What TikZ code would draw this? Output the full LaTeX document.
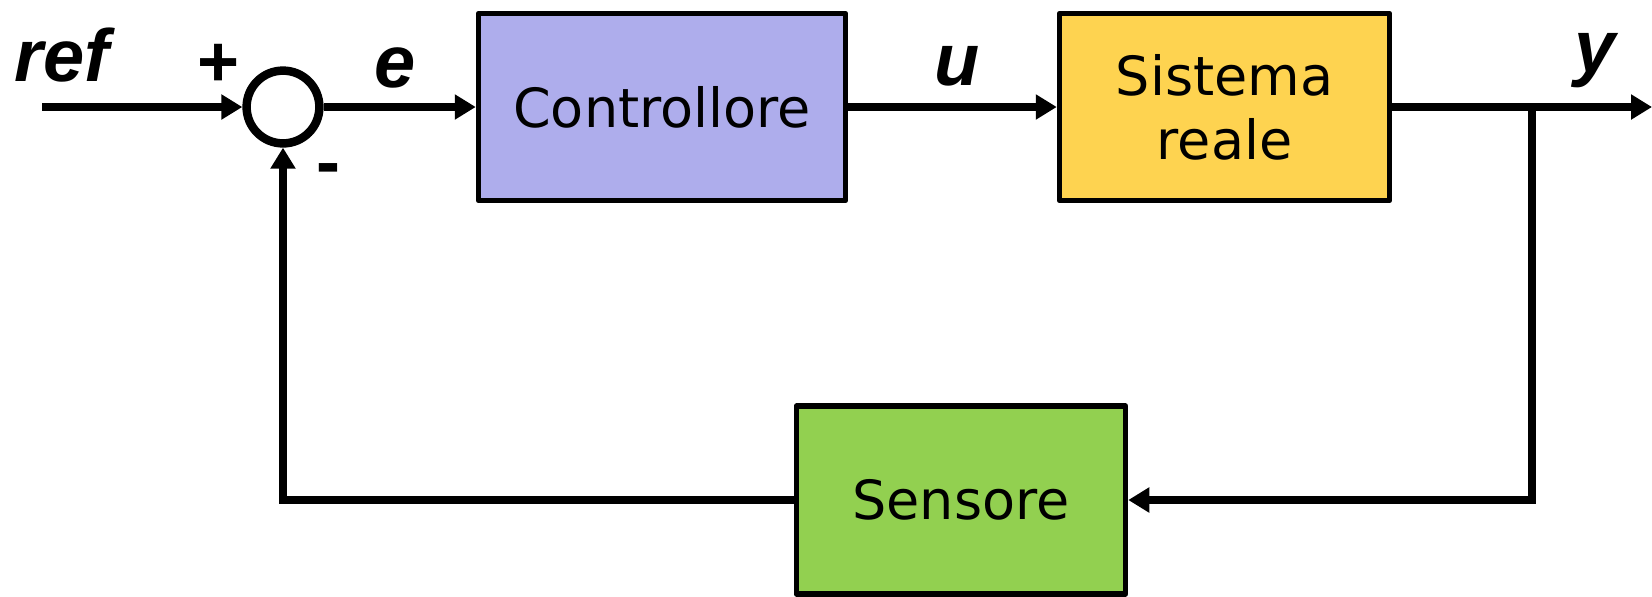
\documentclass[tikz,border=0pt]{standalone}
\usepackage{fontspec}
\setmainfont{DejaVu Sans}
\newfontfamily\labfont{Liberation Sans}
\usetikzlibrary{arrows.meta}
\definecolor{ctrlcol}{HTML}{AEADEC}
\definecolor{plantcol}{HTML}{FED350}
\definecolor{senscol}{HTML}{92D050}
\tikzset{
  blockbox/.style={draw=black, line width=2.75pt, inner sep=0pt, align=center,
    font=\fontsize{27}{32}\selectfont, line join=round},
  sumcirc/.style={draw=black, circle, line width=4.25pt, minimum size=36.4pt, inner sep=0pt},
  arr/.style={line width=4.1pt, -{Triangle[length=10.5pt,width=12pt]}},
  sig/.style={font=\labfont\bfseries\itshape\fontsize{37}{42}\selectfont, inner sep=0pt},
  sgn/.style={font=\labfont\bfseries\fontsize{36}{40}\selectfont, inner sep=0pt}
}
\begin{document}
\begin{tikzpicture}[x=0.5pt,y=-0.5pt]
\useasboundingbox (0,0) rectangle (1652,596);
\node[sumcirc] (sum) at (283,107) {};
\node[blockbox, fill=ctrlcol, minimum width=183.5pt, minimum height=93.5pt] (ctrl) at (662,107) {Controllore};
\node[blockbox, fill=plantcol, minimum width=165pt, minimum height=93.5pt] (plant) at (1224.5,107) {Sistema\\reale};
\node[blockbox, fill=senscol, minimum width=164.5pt, minimum height=94pt] (sens) at (961,500) {Sensore};
\coordinate (in) at (42,107);
\coordinate (out) at (1652,107);
\coordinate (br) at (1532,107);
\draw[arr] (in) -- (sum.west);
\draw[arr] (sum.east) -- (ctrl.west);
\draw[arr] (ctrl.east) -- (plant.west);
\draw[arr] (plant.east) -- (out);
\draw[arr] (br) |- (sens.east);
\draw[arr] (sens.west) -| (sum.south);
\node[sig, anchor=base] (lref) at (62,81) {ref};
\node[sig, anchor=base] (le) at (395,87) {e};
\node[sig, anchor=base] (lu) at (957,85) {u};
\node[sig, anchor=base] (ly) at (1595,72) {y};
\node[sgn] (lplus) at (219,65) {+};
\node[sgn] (lminus) at (328,175) {-};
\end{tikzpicture}
\end{document}
